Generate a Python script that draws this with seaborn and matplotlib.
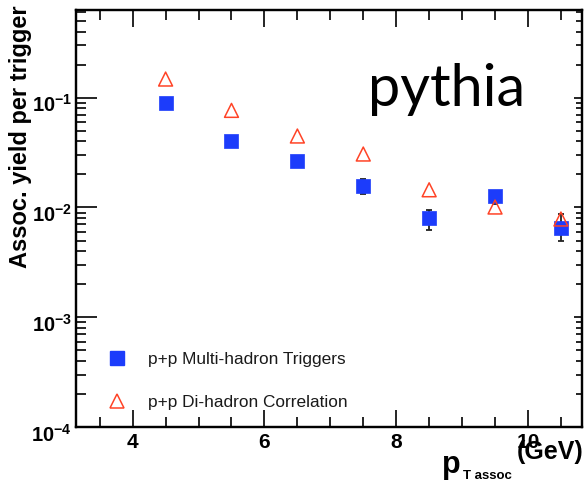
import numpy as np
import pandas as pd
import matplotlib
matplotlib.use("Agg")
import matplotlib.pyplot as plt
import seaborn as sns
from matplotlib.lines import Line2D
from matplotlib.ticker import (LogLocator, NullFormatter, MultipleLocator,
                               FuncFormatter)
from matplotlib.transforms import ScaledTranslation

# associated-particle pT bins (GeV)
pt_assoc = [4.5, 5.5, 6.5, 7.5, 8.5, 9.5, 10.5]

# p+p multi-hadron triggers: yield and asymmetric errors
multi_yield = [0.090, 0.0406, 0.0266, 0.0157, 0.0080, 0.0127, 0.0065]
multi_err_lo = [0.002, 0.0015, 0.0012, 0.0025, 0.0018, 0.0019, 0.0015]
multi_err_hi = [0.002, 0.0015, 0.0012, 0.0025, 0.0015, 0.0010, 0.0022]

# p+p di-hadron correlation yield
dihadron_yield = [0.148, 0.0767, 0.0448, 0.0307, 0.0145, 0.0101, 0.00785]

series_labels = ["p+p Multi-hadron Triggers", "p+p Di-hadron Correlation"]

BLUE = "#1c3cfb"
RED = "#ff4326"

sns.set_style("ticks")
plt.rcParams.update({
    "font.family": ["Liberation Sans", "DejaVu Sans"],
    "text.color": "black",
    "axes.labelcolor": "black",
    "xtick.color": "black",
    "ytick.color": "black",
    "mathtext.fontset": "custom",
    "mathtext.rm": "Liberation Sans:bold",
    "mathtext.bf": "Liberation Sans:bold",
    "mathtext.it": "Liberation Sans:bold",
})

W, H = 585, 482
fig = plt.figure(figsize=(W / 100, H / 100), dpi=100)
ax = fig.add_axes([76 / W, 1 - 427 / H, 506 / W, 417 / H])

df = pd.DataFrame({
    "pt": pt_assoc * 2,
    "yield": multi_yield + dihadron_yield,
    "series": [series_labels[0]] * len(pt_assoc) + [series_labels[1]] * len(pt_assoc),
})
multi = df[df["series"] == series_labels[0]]
dihad = df[df["series"] == series_labels[1]]

ax.errorbar(pt_assoc, multi_yield, yerr=[multi_err_lo, multi_err_hi],
            fmt="none", ecolor="#222222", elinewidth=1.3, capsize=2.5,
            capthick=1.3, zorder=2)
sns.scatterplot(data=multi, x="pt", y="yield", marker="s", s=100,
                color=BLUE, edgecolor=BLUE, linewidth=0.5, ax=ax,
                zorder=3, legend=False)
sns.scatterplot(data=dihad, x="pt", y="yield", marker="^", s=100,
                facecolor="none", edgecolor=RED, linewidth=1.1, ax=ax,
                zorder=4, legend=False)

ax.set_yscale("log")
ax.set_xlim(3.14, 10.82)
ax.set_ylim(1e-4, 0.63)
ax.set_xlabel("")
ax.set_ylabel("")

ax.xaxis.set_major_locator(MultipleLocator(2))
ax.xaxis.set_minor_locator(MultipleLocator(0.5))
ax.yaxis.set_major_locator(LogLocator(base=10, numticks=10))
ax.yaxis.set_minor_locator(LogLocator(base=10, subs=np.arange(2, 10), numticks=20))
ax.yaxis.set_minor_formatter(NullFormatter())
ax.yaxis.set_major_formatter(
    FuncFormatter(lambda v, p: r"$\mathbf{10^{%d}}$" % int(round(np.log10(v)))))
ax.xaxis.set_major_formatter(FuncFormatter(lambda v, p: "%d" % v))

ax.tick_params(axis="both", which="both", direction="in", top=True,
               right=False, width=1.2, colors="black")
ax.tick_params(axis="x", which="major", length=12, pad=4, labelsize=15)
ax.tick_params(axis="x", which="minor", length=7)
ax.tick_params(axis="y", which="major", length=15, pad=3, labelsize=14.5)
ax.tick_params(axis="y", which="minor", length=7)
for lab in ax.get_xticklabels():
    lab.set_fontweight("bold")
for lab in ax.get_yticklabels():
    lab.set_transform(lab.get_transform()
                      + ScaledTranslation(0, -4 / 72, fig.dpi_scale_trans))

# shorter ticks on the right-hand axis
ax2 = ax.twinx()
ax2.set_yscale("log")
ax2.set_ylim(ax.get_ylim())
ax2.yaxis.set_major_locator(LogLocator(base=10, numticks=10))
ax2.yaxis.set_minor_locator(LogLocator(base=10, subs=np.arange(2, 10), numticks=20))
ax2.yaxis.set_major_formatter(NullFormatter())
ax2.yaxis.set_minor_formatter(NullFormatter())
ax2.tick_params(axis="y", which="major", direction="in", length=6, width=1.2,
                colors="black")
ax2.tick_params(axis="y", which="minor", direction="in", length=4, width=1.2,
                colors="black")

for a in (ax, ax2):
    for sp in a.spines.values():
        sp.set_visible(True)
        sp.set_linewidth(1.6)
        sp.set_color("black")

handles = [
    Line2D([], [], linestyle="none", marker="s", markersize=10,
           markerfacecolor=BLUE, markeredgecolor=BLUE),
    Line2D([], [], linestyle="none", marker="^", markersize=10,
           markerfacecolor="none", markeredgecolor=RED, markeredgewidth=1.1),
]
ax.legend(handles, series_labels, loc="center left",
          bbox_to_anchor=(0.037, 0.110), borderaxespad=0, frameon=False,
          fontsize=12.4, labelspacing=1.6, handlelength=1.75,
          handletextpad=0.95, labelcolor="#1a1a1a")

ax.text(368 / W, 1 - 106 / H, "pythia", transform=fig.transFigure,
        family=["Lato", "DejaVu Sans"], fontsize=41.5, color="black",
        ha="left", va="baseline")

fig.text(21 / W, 1 - 5 / H, "Assoc. yield per trigger", rotation=90,
         ha="center", va="top", fontsize=17, fontweight="bold")

fig.text(442 / W, 1 - 473 / H, "p", fontsize=22, fontweight="bold",
         ha="left", va="baseline")
fig.text(463 / W, 1 - 479 / H, "T assoc", fontsize=9.5, fontweight="bold",
         ha="left", va="baseline")
fig.text(584 / W, 1 - 459 / H, "(GeV)", fontsize=18, fontweight="bold",
         ha="right", va="baseline")

fig.savefig("out.png", dpi=100, facecolor="white")
